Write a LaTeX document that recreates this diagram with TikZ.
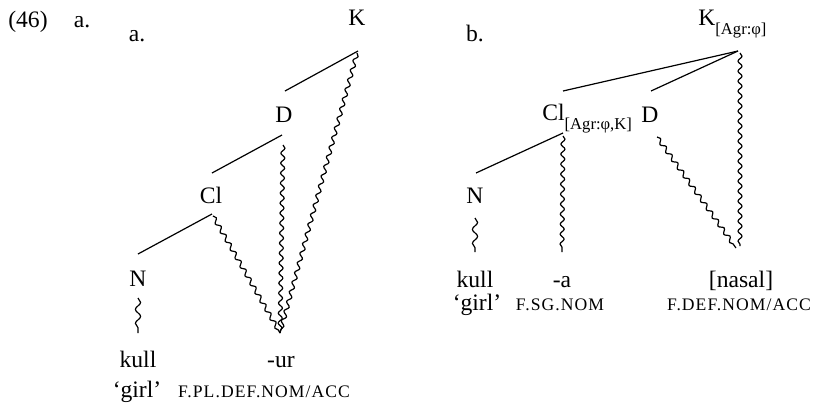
\documentclass[tikz,border=0pt]{standalone}
\usepackage{fontspec}
\setmainfont{Liberation Serif}
\newfontfamily\scfont[LetterSpace=6]{Liberation Serif}
\usetikzlibrary{decorations.pathmorphing}
\newcommand{\glossc}[1]{{\fontsize{8.8}{10}\scfont #1}}
\newcommand{\subfeat}[1]{\raisebox{-4.5pt}{\fontsize{8.3}{9}\selectfont #1}}
\begin{document}
\begin{tikzpicture}[x=0.5pt,y=-0.5pt, font=\fontsize{11.8}{13}\selectfont,
  lbl/.style={inner sep=0pt, anchor=base},
  br/.style={line width=0.6pt},
  wv/.style={line width=0.6pt, decorate, decoration={snake, segment length=5pt, amplitude=1pt}},
  wvs/.style={line width=0.6pt, decorate, decoration={snake, segment length=7pt, amplitude=1.3pt}}]
\useasboundingbox (0,0) rectangle (815,408);
% headings
\node[lbl] (ex) at (28,27) {(46)};
\node[lbl] (ea) at (82,27) {a.};
\node[lbl] (la) at (137,41) {a.};
\node[lbl] (lb) at (475,41) {b.};
% tree a
\node[lbl] (K1) at (357,25) {K};
\node[lbl] (D1) at (284,122) {D};
\node[lbl] (Cl1) at (211,203) {Cl};
\node[lbl] (N1) at (138,286) {N};
\node[lbl] (kull1) at (138,367) {kull};
\node[lbl] (ur) at (281,367) {-ur};
\node[lbl] (girl1) at (137,397) {‘girl’};
\node[lbl] (gl1) at (264,397) {\glossc{F.PL.DEF.NOM/ACC}};
\coordinate (K1b) at (358,51);
\coordinate (K1w) at (357,53);
\coordinate (D1t) at (285,91);
\coordinate (D1b) at (282,135);
\coordinate (D1w) at (283,145);
\coordinate (Cl1t) at (212,173);
\coordinate (Cl1b) at (212,214);
\coordinate (Cl1w) at (213,216);
\coordinate (N1t) at (138,254);
\coordinate (N1w) at (138,298);
\coordinate (N1e) at (138,333);
\coordinate (urt) at (280,333);
\draw[br] (K1b) -- (D1t);
\draw[br] (D1b) -- (Cl1t);
\draw[br] (Cl1b) -- (N1t);
\draw[wv] (K1w) -- (urt);
\draw[wv] (D1w) -- (urt);
\draw[wv] (Cl1w) -- (urt);
\draw[wvs] (N1w) -- (N1e);
% tree b
\node[lbl, anchor=base west] (K2) at (698,25) {K\subfeat{[Agr:φ]}};
\node[lbl, anchor=base west] (Cl2) at (542,120) {Cl\subfeat{[Agr:φ,K]}};
\node[lbl] (D2) at (650,122) {D};
\node[lbl] (N2) at (475,203) {N};
\node[lbl] (kull2) at (475,287) {kull};
\node[lbl] (a2) at (562,287) {-a};
\node[lbl] (nas) at (741,287) {[nasal]};
\node[lbl] (girl2) at (477,310) {‘girl’};
\node[lbl] (gl2) at (560,310) {\glossc{F.SG.NOM}};
\node[lbl] (gl3) at (739,310) {\glossc{F.DEF.NOM/ACC}};
\coordinate (K2b) at (738,51);
\coordinate (K2w) at (740,53);
\coordinate (K2e) at (740,246);
\coordinate (Cl2t) at (563,91);
\coordinate (D2t) at (651,91);
\coordinate (Cl2b) at (563,133);
\coordinate (Cl2w) at (563,136);
\coordinate (a2t) at (562,252);
\coordinate (D2w) at (657,137);
\coordinate (nast) at (736,248);
\coordinate (N2t) at (476,173);
\coordinate (N2w) at (475,218);
\coordinate (N2e) at (475,252);
\draw[br] (K2b) -- (Cl2t);
\draw[br] (K2b) -- (D2t);
\draw[br] (Cl2b) -- (N2t);
\draw[wv] (K2w) -- (K2e);
\draw[wv] (Cl2w) -- (a2t);
\draw[wv] (D2w) -- (nast);
\draw[wvs] (N2w) -- (N2e);
\end{tikzpicture}
\end{document}
